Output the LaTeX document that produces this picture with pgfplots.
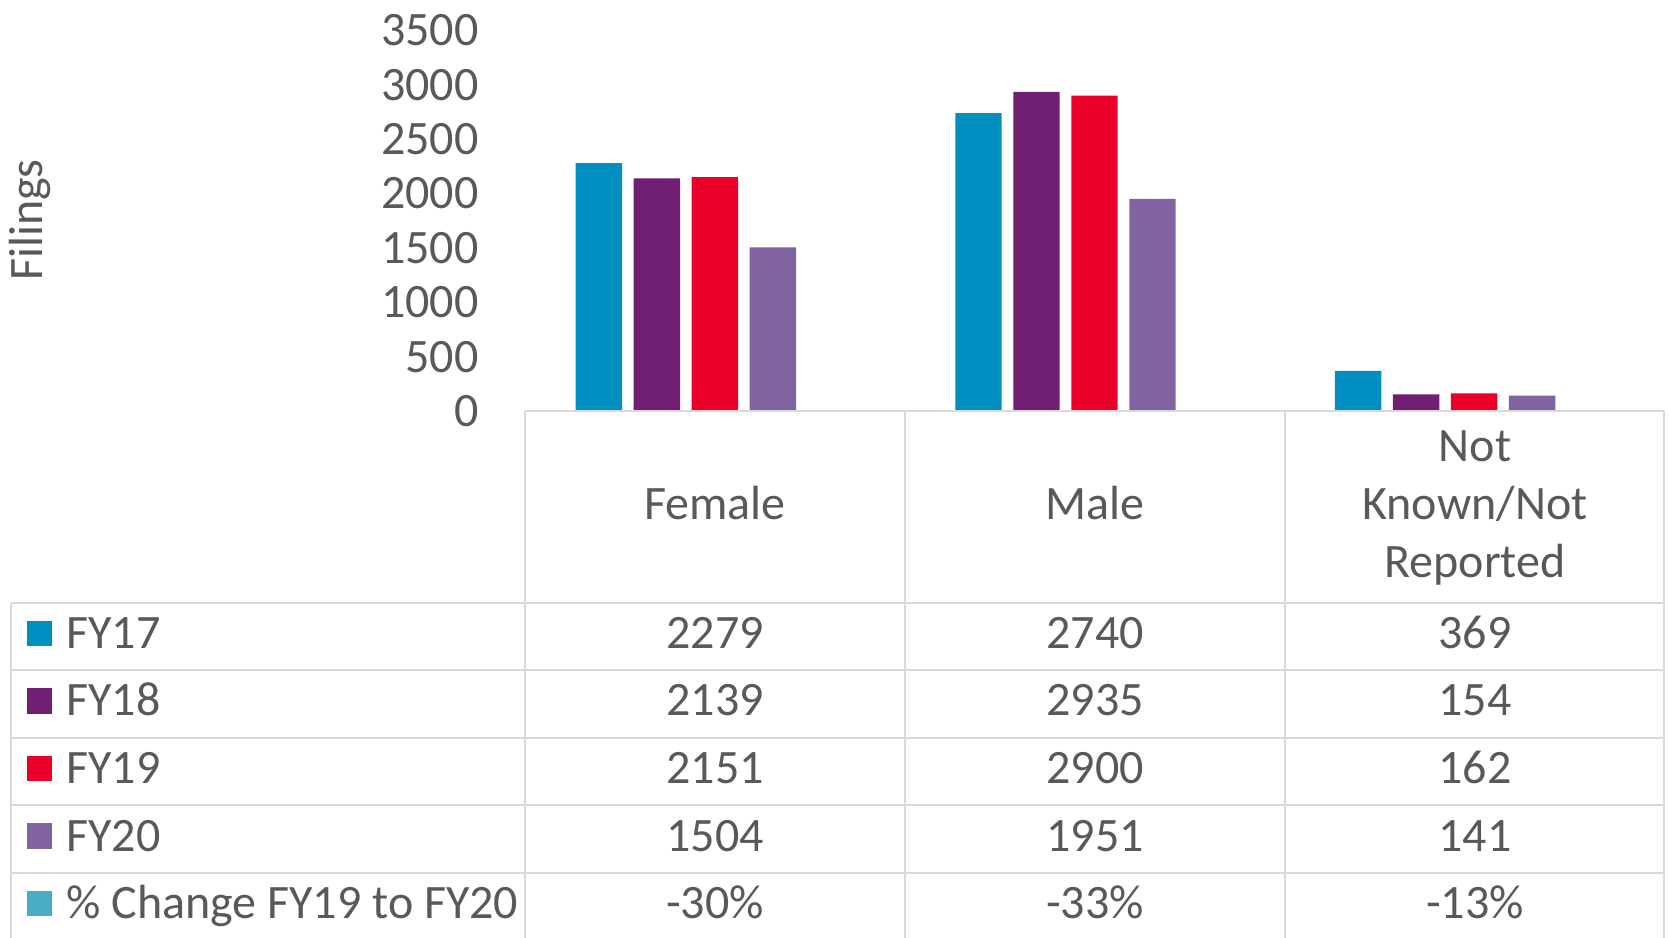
\documentclass[border=0pt]{standalone}
\usepackage{pgfplots}
\pgfplotsset{compat=1.18}
\usepackage{fontspec}
\setmainfont{Carlito}
\definecolor{fy17}{HTML}{008FC0}
\definecolor{fy18}{HTML}{701F72}
\definecolor{fy19}{HTML}{EA0029}
\definecolor{fy20}{HTML}{8064A2}
\definecolor{pchg}{HTML}{4BACC6}
\definecolor{txt}{HTML}{595959}
\definecolor{grd}{HTML}{D9D9D9}

\begin{document}
\fontsize{24}{28}\selectfont
\begin{tikzpicture}[font=\fontsize{24}{28}\selectfont, text=txt]
\useasboundingbox (-262.5pt,-263pt) rectangle (572pt,205.5pt);
\clip (-262.5pt,-263pt) rectangle (572pt,205.5pt);
\begin{axis}[
    at={(0pt,0pt)}, anchor=south west,
    scale only axis, width=569.5pt, height=190.25pt,
    xmin=0, xmax=3, ymin=0, ymax=3500,
    ytick={0,500,...,3500}, xtick=\empty,
    axis line style={draw=none},
    major tick length=0pt,
    ybar=5.8pt, bar width=23.2pt,
    /pgf/number format/assume math mode=true,
    /pgf/number format/1000 sep={},
    yticklabel style={font=\fontsize{24}{28}\selectfont, text=txt, inner sep=0pt, anchor=east, xshift=-23pt},
]
\addplot[fill=fy17, draw=none] coordinates {(0.5,2279) (1.5,2740) (2.5,369)};
\addplot[fill=fy18, draw=none] coordinates {(0.5,2139) (1.5,2935) (2.5,154)};
\addplot[fill=fy19, draw=none] coordinates {(0.5,2151) (1.5,2900) (2.5,162)};
\addplot[fill=fy20, draw=none] coordinates {(0.5,1504) (1.5,1951) (2.5,141)};
\addplot[fill=pchg, draw=none] coordinates {(0.5,-0.30) (1.5,-0.33) (2.5,-0.13)};
\end{axis}
% y label
\node[rotate=90] at (-247.5pt,95.5pt) {Filings};
% data table grid
\begin{scope}[draw=grd, line width=1pt]
\draw (0pt,0pt) -- (569.5pt,0pt);
\foreach \y in {-95.75,-129.55,-163.35,-197.15,-230.95}
  \draw (-257.2pt,\y pt) -- (569.5pt,\y pt);
\foreach \x in {0,190,380,569.5}
  \draw (\x pt,0pt) -- (\x pt,-270pt);
\draw (-257.2pt,-95.75pt) -- (-257.2pt,-270pt);
\end{scope}
% category header
\node[anchor=base] at (95pt,-54.4pt) {Female};
\node[anchor=base] at (285pt,-54.4pt) {Male};
\node[anchor=base] at (475pt,-25.4pt) {Not};
\node[anchor=base] at (475pt,-54.4pt) {Known/Not};
\node[anchor=base] at (475pt,-83.4pt) {Reported};
% row headers with legend keys
\foreach \lab/\col/\b in {FY17/fy17/-118.6, FY18/fy18/-152.4, FY19/fy19/-186.2, FY20/fy20/-220.0, \% Change FY19 to FY20/pchg/-253.8}{
  \fill[\col] (-249.2pt,\b pt+1.1pt) rectangle ++(12.7pt,12.7pt);
  \node[anchor=base west, inner sep=0pt] at (-229.5pt,\b pt) {\lab};
}
% row values
\foreach \a/\bb/\c/\b in {2279/2740/369/-118.6, 2139/2935/154/-152.4, 2151/2900/162/-186.2, 1504/1951/141/-220.0, -30\%/-33\%/-13\%/-253.8}{
  \node[anchor=base] at (95pt,\b pt) {\a};
  \node[anchor=base] at (285pt,\b pt) {\bb};
  \node[anchor=base] at (475pt,\b pt) {\c};
}
\end{tikzpicture}
\end{document}
